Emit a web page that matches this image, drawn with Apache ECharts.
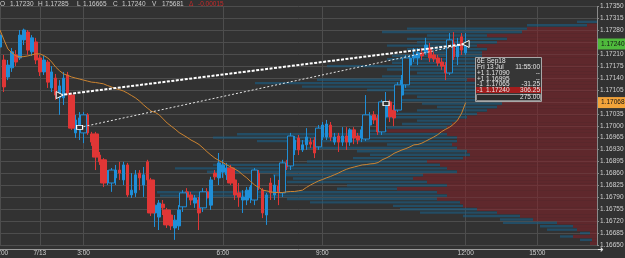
<!DOCTYPE html>
<html><head><meta charset="utf-8">
<script src="https://cdn.jsdelivr.net/npm/echarts@6/dist/echarts.min.js"></script>
<style>html,body{margin:0;padding:0;background:#323232;}#c{width:625px;height:258px;}</style>
</head><body><div id="c"></div>
<script>
// ---------------- DATA ----------------
const slotCount = 151;
const tickIndex = [0, 10, 21, 56, 81, 117, 135];
const tickLabels = ['21:00', '7/13', '3:00', '6:00', '9:00', '12:00', '15:00'];

const open = [1.17231,1.17193,1.17143,1.17170,1.17208,1.17199,1.17252,1.17275,1.17217,1.17246,
1.17199,1.17158,1.17187,1.17111,1.17140,1.17082,1.17082,1.17149,1.17090,1.16979,
1.16988,1.16979,1.17032,1.16976,1.16976,1.16914,1.16900,1.16841,1.16832,1.16847,
1.16870,1.16841,1.16885,1.16797,1.16803,1.16861,1.16826,1.16894,1.16841,1.16744,
1.16732,1.16770,1.16753,1.16738,1.16700,1.16706,1.16762,1.16806,1.16797,1.16773,
1.16782,1.16759,1.16806,1.16767,1.16861,1.16847,1.16864,1.16856,1.16876,1.16841,
1.16803,1.16782,1.16782,1.16788,1.16782,1.16861,1.16811,1.16738,1.16832,1.16797,
1.16823,1.16803,1.16891,1.16882,1.16929,1.16964,1.16929,1.16944,1.16952,1.16958,
1.16938,1.16967,1.16967,1.17002,1.16952,1.16970,1.16952,1.16970,1.16952,1.16988,
1.16970,1.16964,1.16961,1.17002,1.17032,1.17023,1.16982,1.17026,1.17070,1.17046,
1.17046,1.17090,1.17120,1.17178,1.17199,1.17199,1.17214,1.17214,1.17228,1.17208,
1.17199,1.17187,1.17178,1.17155,1.17243,1.17202,1.17261,1.17214];
const close = [1.17266,1.17114,1.17178,1.17217,1.17187,1.17266,1.17281,1.17222,1.17258,1.17193,
1.17158,1.17193,1.17128,1.17158,1.17090,1.17117,1.17140,1.17096,1.16993,1.17017,
1.17023,1.17032,1.16979,1.16952,1.16908,1.16894,1.16832,1.16864,1.16870,1.16870,
1.16861,1.16885,1.16797,1.16811,1.16856,1.16847,1.16856,1.16841,1.16744,1.16767,
1.16773,1.16759,1.16709,1.16706,1.16723,1.16753,1.16803,1.16791,1.16782,1.16788,
1.16744,1.16806,1.16788,1.16841,1.16850,1.16891,1.16885,1.16876,1.16832,1.16797,
1.16791,1.16791,1.16811,1.16820,1.16870,1.16820,1.16744,1.16797,1.16803,1.16826,
1.16806,1.16891,1.16879,1.16970,1.16958,1.16929,1.16944,1.16967,1.16946,1.16920,
1.16993,1.17002,1.17005,1.16967,1.16967,1.16952,1.16970,1.16952,1.16988,1.16964,
1.16958,1.16988,1.17032,1.17029,1.17017,1.16982,1.17070,1.17070,1.17026,1.17023,
1.17120,1.17134,1.17199,1.17199,1.17208,1.17214,1.17205,1.17237,1.17199,1.17196,
1.17184,1.17175,1.17155,1.17252,1.17202,1.17237,1.17222,1.17240];
const low = [1.17222,1.17099,1.17134,1.17158,1.17175,1.17193,1.17237,1.17208,1.17205,1.17181,
1.17146,1.17149,1.17111,1.17099,1.17076,1.17032,1.17061,1.17090,1.16988,1.16964,
1.16958,1.16949,1.16973,1.16941,1.16870,1.16885,1.16820,1.16826,1.16806,1.16826,
1.16841,1.16826,1.16791,1.16788,1.16791,1.16811,1.16791,1.16826,1.16735,1.16703,
1.16694,1.16738,1.16700,1.16694,1.16665,1.16694,1.16747,1.16776,1.16767,1.16759,
1.16694,1.16747,1.16776,1.16753,1.16841,1.16826,1.16847,1.16841,1.16826,1.16782,
1.16762,1.16744,1.16767,1.16773,1.16767,1.16811,1.16729,1.16709,1.16782,1.16782,
1.16767,1.16791,1.16870,1.16870,1.16914,1.16914,1.16923,1.16929,1.16935,1.16905,
1.16929,1.16958,1.16958,1.16955,1.16944,1.16923,1.16941,1.16929,1.16941,1.16946,
1.16946,1.16952,1.16955,1.16988,1.17005,1.16973,1.16973,1.17017,1.17011,1.16999,
1.17040,1.17082,1.17111,1.17170,1.17187,1.17178,1.17193,1.17208,1.17187,1.17187,
1.17175,1.17164,1.17134,1.17149,1.17193,1.17178,1.17208,1.17208];
const high = [1.17281,1.17208,1.17193,1.17228,1.17222,1.17281,1.17285,1.17281,1.17266,1.17258,
1.17208,1.17205,1.17193,1.17175,1.17152,1.17134,1.17158,1.17158,1.17096,1.17032,
1.17040,1.17040,1.17037,1.16982,1.16982,1.16923,1.16905,1.16870,1.16876,1.16885,
1.16894,1.16894,1.16891,1.16861,1.16870,1.16870,1.16879,1.16900,1.16847,1.16773,
1.16782,1.16782,1.16759,1.16747,1.16738,1.16767,1.16811,1.16817,1.16806,1.16797,
1.16791,1.16817,1.16817,1.16850,1.16870,1.16920,1.16900,1.16891,1.16885,1.16847,
1.16832,1.16811,1.16820,1.16826,1.16876,1.16870,1.16817,1.16803,1.16847,1.16856,
1.16841,1.16900,1.16900,1.16979,1.16970,1.16973,1.16958,1.16993,1.16964,1.16967,
1.17002,1.17011,1.17017,1.17011,1.16979,1.16979,1.16996,1.16996,1.16993,1.16996,
1.16979,1.16999,1.17090,1.17040,1.17043,1.17032,1.17076,1.17099,1.17076,1.17061,
1.17128,1.17149,1.17208,1.17208,1.17228,1.17228,1.17228,1.17258,1.17243,1.17217,
1.17208,1.17199,1.17187,1.17272,1.17275,1.17258,1.17272,1.17272];
// bars drawn as wider candles
const wideBars = [18,21,24,26,28,38,42,46,51,58,64,71,73,80,92,96,100,102,113];

const movingAvg = [1.17281,1.17252,1.17225,1.17214,1.17205,1.17202,1.17203,1.17205,1.17208,1.17211,
1.17211,1.17206,1.17199,1.17187,1.17172,1.17161,1.17152,1.17148,1.17143,1.17140,
1.17137,1.17134,1.17131,1.17128,1.17127,1.17125,1.17123,1.17118,1.17114,1.17109,
1.17106,1.17102,1.17096,1.17089,1.17082,1.17073,1.17062,1.17052,1.17043,1.17039,
1.17032,1.17020,1.17008,1.16999,1.16990,1.16980,1.16973,1.16966,1.16958,1.16952,
1.16945,1.16935,1.16924,1.16914,1.16905,1.16898,1.16892,1.16885,1.16879,1.16873,
1.16866,1.16856,1.16847,1.16836,1.16826,1.16819,1.16811,1.16809,1.16806,1.16804,
1.16804,1.16804,1.16806,1.16807,1.16807,1.16809,1.16811,1.16819,1.16826,1.16832,
1.16838,1.16842,1.16847,1.16851,1.16856,1.16861,1.16867,1.16872,1.16876,1.16879,
1.16882,1.16885,1.16886,1.16888,1.16889,1.16892,1.16900,1.16905,1.16911,1.16919,
1.16924,1.16929,1.16933,1.16938,1.16944,1.16945,1.16949,1.16955,1.16961,1.16967,
1.16974,1.16983,1.16990,1.16996,1.17005,1.17017,1.17037,1.17068];

// volume profile (rows of 0.0001 from 1.16650 upward)
const profileStart = 1.16650, profileStep = 0.0001, profileRows = 70;
const profileSell = [7,5,24,7,20,24,40,64,77,100, 120,134,137,160,150,160,200,150,170,184,
174,140,150,157,170,134,127,130,140,145, 140,140,150,210,150,145,140,130,120,110,
100,95,100,100,100,110,115,120,130,115, 110,110,120,115,110,115,115,110,120,100,
90,110,75,70,10,0,0,0,0,0];
const profileBuy = [0,12,13,10,30,33,54,33,57,77, 77,70,150,150,287,280,60,100,140,120,
150,250,272,227,120,110,100,110,150,65, 200,244,210,20,60,50,40,100,90,70,
60,80,100,80,100,120,180,222,150,100, 70,100,150,90,100,90,70,80,90,80,
100,60,140,120,60,20,0,0,0,0];

// trades
const tradeLines = [[15, 1.17090, 117, 1.17240], [20, 1.16995, 117, 1.17240]];
const markerIdx = [15, 20, 97, 117];
const markerPrice = [1.17090, 1.16995, 1.17065, 1.17240];

const lastPrice = 1.17240;
const maLast = 1.17068;

const headerKeys = ['O', 'H', 'L', 'C', 'V'];
const headerVals = ['1.17230', '1.17285', '1.16665', '1.17240', '175681'];
const headerDelta = ['Δ', '-0.00015'];

const boxTitle = '6E Sep18';
const boxTime = ['Fri 13 Jul', '11:55:00'];
const tradeRows = [['+1', '1.17090', '--'], ['+1', '1.16995', '--'], ['-1', '1.17065', '-31.25'], ['-1', '1.17240', '306.25']];
const boxTotal = '275.00';

// ---------------- STYLE / LAYOUT ----------------
const FONT = '"Liberation Sans", Arial, sans-serif';
const BG = '#323232', GRIDC = '#4d4d4d', TXT = '#cfcfcf';
const UP = '#1f8fd8', DOWN = '#e03636';
const FS = 6.5;
const headerKeyX = [0, 38, 77, 113, 152], headerValX = [10, 45, 83, 122, 162], headerDeltaX = [189, 198];

const tickSet = new Set(tickIndex);
const isTick = (i) => tickSet.has(i);
const labelOf = {};
tickIndex.forEach((t, k) => { labelOf[t] = tickLabels[k]; });
const slotCats = Array.from({ length: slotCount }, (_, i) => String(i));
const wideSet = new Set(wideBars);
const thinData = [], wideData = [];
for (let i = 0; i < open.length; i++) {
  const row = [i, open[i], close[i], low[i], high[i]];
  (wideSet.has(i) ? wideData : thinData).push(row);
}
const levels = Array.from({ length: profileRows }, (_, k) => (profileStart + k * profileStep).toFixed(5));

const markerStyles = [
  { symbol: 'triangle', symbolRotate: -90, symbolSize: 7 },
  { symbol: 'rect', symbolSize: [6, 4] },
  { symbol: 'rect', symbolSize: [6, 4] },
  { symbol: 'triangle', symbolRotate: 90, symbolSize: 7 }
];
const markerData = markerIdx.map((x, k) => Object.assign({ value: [x, markerPrice[k]] }, markerStyles[k]));

const tStyle = (t, fill, extra) => Object.assign({ text: t, fill: fill, fontSize: FS, fontFamily: FONT, verticalAlign: 'middle', textVerticalAlign: 'middle' }, extra || {});
const headerEls = [];
headerKeys.forEach((k, i) => {
  headerEls.push({ type: 'text', x: headerKeyX[i], y: 4, z: 100, style: tStyle(k, TXT) });
  headerEls.push({ type: 'text', x: headerValX[i], y: 4, z: 100, style: tStyle(headerVals[i], TXT) });
});
headerDelta.forEach((t, i) => headerEls.push({ type: 'text', x: headerDeltaX[i], y: 4, z: 100, style: tStyle(t, '#c62a2a') }));

function boxText(t, x, y, align, color) {
  return { type: 'text', x: x, y: y, z: 102, style: tStyle(t, color || '#e6e6e6', { align: align || 'left', textAlign: align || 'left' }) };
}
const rowY = [16, 22, 27.5, 33];
const boxChildren = [
  { type: 'rect', z: 101, shape: { x: 0.5, y: 0.5, width: 66, height: 44 }, style: { fill: '#363636', stroke: '#a8a8a8', lineWidth: 1 } },
  { type: 'rect', z: 101, shape: { x: 1, y: 30, width: 65, height: 6 }, style: { fill: '#a31d1d' } },
  { type: 'rect', z: 101, shape: { x: 1.5, y: 37.5, width: 64, height: 6 }, style: { fill: '#2c2c2c', stroke: '#8a8a8a', lineWidth: 1 } },
  boxText(boxTitle, 2, 4),
  boxText(boxTime[0], 2, 10),
  boxText(boxTime[1], 65, 10, 'right')
];
tradeRows.forEach((r, i) => {
  boxChildren.push(boxText(r[0], 2, rowY[i]));
  boxChildren.push(boxText(r[1], 11, rowY[i]));
  boxChildren.push(boxText(r[2], 65, rowY[i], 'right'));
});
boxChildren.push(boxText(boxTotal, 65, 40.5, 'right'));

const hiddenCat = { type: 'category', position: 'left', data: levels, show: false, boundaryGap: true };

const chart = echarts.init(document.getElementById('c'), null, { renderer: 'canvas', width: 625, height: 258 });
chart.setOption({
  animation: false,
  backgroundColor: BG,
  grid: { left: 0, right: 28, top: 6.5, bottom: 13, containLabel: false, outerBoundsMode: 'none' },
  xAxis: [
    {
      type: 'category', data: slotCats, boundaryGap: false, position: 'bottom', offset: 4,
      axisLine: { show: true, lineStyle: { color: '#9a9a9a' } },
      axisTick: { show: true, interval: (i) => isTick(i), length: 2, lineStyle: { color: '#9a9a9a' } },
      axisLabel: { interval: (i) => isTick(i), formatter: (v) => labelOf[Number(v)] || '', color: TXT, fontSize: FS, fontFamily: FONT, margin: 1 },
      splitLine: { show: true, interval: (i) => isTick(i), lineStyle: { color: GRIDC } }
    },
    { type: 'value', position: 'top', inverse: true, min: 0, max: 597, show: false }
  ],
  yAxis: [
    {
      type: 'value', position: 'right', min: 1.16650, max: 1.17350, interval: 0.00035,
      axisLine: { show: true, lineStyle: { color: '#8a8a8a' } },
      axisTick: { show: true, length: 2, lineStyle: { color: '#8a8a8a' } },
      axisLabel: {
        margin: 3, color: TXT, fontSize: FS, fontFamily: FONT, showMinLabel: true, showMaxLabel: true,
        formatter: (v) => (Math.abs(v - lastPrice) < 0.00015 || Math.abs(v - maLast) < 0.00015) ? '' : v.toFixed(5)
      },
      splitLine: { show: true, lineStyle: { color: GRIDC } }
    },
    hiddenCat,
    Object.assign({}, hiddenCat, { offset: 10 })
  ],
  series: [
    { name: 'sellVol', type: 'bar', xAxisIndex: 1, yAxisIndex: 1, data: profileSell, barCategoryGap: '0%', silent: true, z: 1,
      itemStyle: { color: 'rgba(140,30,38,0.5)' } },
    { name: 'sellOffset', type: 'bar', xAxisIndex: 1, yAxisIndex: 2, stack: 'buy', data: profileSell, barCategoryGap: '30%', silent: true, z: 1,
      itemStyle: { color: 'rgba(0,0,0,0)' } },
    { name: 'buyVol', type: 'bar', xAxisIndex: 1, yAxisIndex: 2, stack: 'buy', data: profileBuy, barCategoryGap: '30%', silent: true, z: 1,
      itemStyle: { color: 'rgba(25,95,135,0.6)' } },
    { name: 'thin', type: 'candlestick', xAxisIndex: 0, yAxisIndex: 0, data: thinData, barWidth: 3, z: 3,
      dimensions: ['idx', 'open', 'close', 'lowest', 'highest'], encode: { x: 'idx', y: ['open', 'close', 'lowest', 'highest'] },
      itemStyle: { color: UP, color0: DOWN, borderColor: UP, borderColor0: DOWN, borderWidth: 1 } },
    { name: 'wide', type: 'candlestick', xAxisIndex: 0, yAxisIndex: 0, data: wideData, barWidth: 7, z: 3,
      dimensions: ['idx', 'open', 'close', 'lowest', 'highest'], encode: { x: 'idx', y: ['open', 'close', 'lowest', 'highest'] },
      itemStyle: { color: BG, color0: DOWN, borderColor: UP, borderColor0: DOWN, borderWidth: 1 } },
    { name: 'MA', type: 'line', xAxisIndex: 0, yAxisIndex: 0, data: movingAvg, showSymbol: false, symbol: 'none', z: 4, clip: false,
      lineStyle: { color: '#cd8430', width: 1 },
      markLine: {
        silent: true, symbol: ['none', 'none'], animation: false, precision: 5,
        lineStyle: { color: 'rgba(0,0,0,0)', width: 1, type: 'solid' },
        label: { show: true, position: 'end', distance: 1, formatter: (p) => Number(p.value).toFixed(5), fontSize: FS, fontFamily: FONT, color: '#151515', padding: [2, 3, 2, 3] },
        data: [
          { yAxis: lastPrice, label: { backgroundColor: '#4fba3c', color: '#151515' } },
          { yAxis: maLast, label: { backgroundColor: '#f2a33a', color: '#151515' } }
        ]
      } },
    { name: 'trade1', type: 'line', data: [[tradeLines[0][0], tradeLines[0][1]], [tradeLines[0][2], tradeLines[0][3]]], symbol: 'none', z: 5,
      lineStyle: { color: '#ffffff', width: 2, type: [3, 1.5] } },
    { name: 'trade2', type: 'line', data: [[tradeLines[1][0], tradeLines[1][1]], [tradeLines[1][2], tradeLines[1][3]]], symbol: 'none', z: 5,
      lineStyle: { color: '#e8e8e8', width: 1, type: [2, 2] } },
    { name: 'markers', type: 'scatter', data: markerData, z: 6,
      itemStyle: { color: BG, borderColor: '#ffffff', borderWidth: 1, opacity: 1 } }
  ],
  graphic: headerEls.concat([
    { type: 'group', x: 475, y: 57, z: 101, children: boxChildren },
    { type: 'text', x: 597, y: 250, z: 100, style: { text: '➜', fill: '#e8e8e8', fontSize: 8, fontFamily: 'DejaVu Sans', verticalAlign: 'middle', textVerticalAlign: 'middle' } }
  ])
});
</script></body></html>
